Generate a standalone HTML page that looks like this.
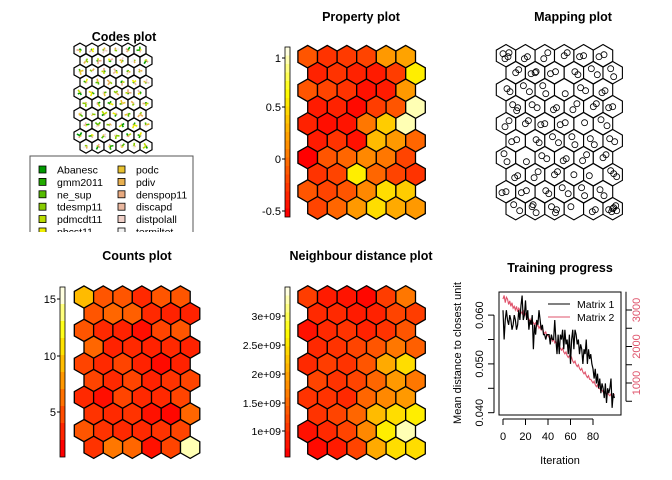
<!DOCTYPE html>
<html><head><meta charset="utf-8"><style>
body{margin:0;background:#fff}
svg{font-family:"Liberation Sans",sans-serif;display:block}
</style></head><body>
<svg id="c" width="672" height="480" viewBox="0 0 672 480">
<g id="titles" font-weight="bold" font-size="12.5" text-anchor="middle">
<text x="124" y="41">Codes plot</text>
<text x="361" y="21">Property plot</text>
<text x="573" y="21">Mapping plot</text>
<text x="137" y="260">Counts plot</text>
<text x="361" y="260">Neighbour distance plot</text>
<text x="560" y="272">Training progress</text>
</g>
</svg>
<script>
const propVals=[[.25,.15,.17,.2,.45,.48],[.1,.15,.1,.08,.18,.7],[.25,.2,.15,.05,.08,.45],[.08,.1,.03,.18,.25,.95],[.1,.04,.06,.35,.6,.95],[.08,.15,.05,.55,.45,.3],[0,.25,.3,.4,.35,.2],[.15,.2,.7,.3,.2,.15],[.25,.2,.25,.4,.65,.6],[.2,.3,.45,.65,.5,.45]];
const countVals=[[.55,.25,.25,.12,.25,.25],[.25,.3,.28,.12,.1,.1],[.25,.12,.1,.04,.2,.25],[.3,.1,.12,.1,.12,.1],[.2,.12,.2,.1,.03,.1],[.2,.12,.2,.1,.15,.2],[.12,.04,.2,.12,.12,.2],[.15,.12,.15,.05,.02,.3],[.25,.15,.12,.12,.15,.2],[.15,.35,.3,.05,.2,.95]];
const distVals=[[.18,.08,.06,.02,.18,.35],[.12,.12,.08,.1,.2,.18],[.05,.12,.15,.1,.15,.25],[.12,.15,.2,.25,.35,.28],[.12,.18,.15,.25,.5,.65],[.2,.15,.2,.3,.45,.35],[.15,.15,.12,.3,.4,.45],[.15,.2,.3,.55,.65,.7],[.05,.12,.2,.4,.7,.95],[.03,.08,.2,.5,.65,.65]];
const iterTicks=[0,20,40,60,80];
const leftTicks=[0.040,0.045,0.050,0.055,0.060];
const leftLabels=["0.040","","0.050","","0.060"];
const rightTicks=[500,1000,1500,2000,2500,3000,3500];
const rightLabels=["","1000","","2000","","3000",""];
const matrix1=[.061,.055,.059,.061,.059,.058,.060,.059,.057,.058,.060,.059,.057,.058,.061,.059,.062,.064,.059,.060,.063,.059,.061,.057,.059,.058,.060,.053,.058,.056,.059,.058,.061,.059,.057,.058,.056,.056,.055,.056,.056,.056,.054,.056,.055,.055,.059,.055,.052,.056,.052,.056,.055,.057,.053,.057,.054,.055,.052,.056,.050,.055,.057,.053,.057,.056,.054,.055,.052,.054,.053,.050,.053,.052,.055,.050,.053,.051,.052,.050,.049,.047,.049,.046,.048,.045,.047,.044,.046,.045,.043,.046,.042,.045,.044,.045,.047,.041,.044,.043];
const matrix2=[3300,3400,3200,3350,3300,3150,3250,3100,3200,3050,3100,3000,3100,2950,3050,3000,2950,2900,3000,2850,2900,2800,2850,2700,2750,2650,2700,2650,2600,2650,2550,2600,2500,2550,2450,2500,2400,2350,2400,2300,2300,2250,2200,2250,2150,2200,2100,2150,2050,2000,2000,1950,1900,1950,1850,1800,1850,1750,1700,1750,1650,1700,1600,1550,1600,1500,1450,1500,1400,1350,1400,1300,1250,1300,1200,1150,1200,1100,1100,1050,1000,1050,950,900,950,850,850,800,800,750,750,720,700,720,680,650,700,620,650,700];
const legendNames=["Abanesc","gmm2011","ne_sup","tdesmp11","pdmcdt11","pbcst11","podc","pdiv","denspop11","discapd","distpolall","termiltot"];
const legendCols=["#009900","#22aa00","#55bb00","#88cc00","#bbdd00","#eeee00","#e8c230","#e8b050","#e8aa80","#eab8a0","#f0d0c8","#f2f2f2"];

const NS="http://www.w3.org/2000/svg",svg=document.getElementById('c');
function el(t,a,p){const e=document.createElementNS(NS,t);for(const k in a)e.setAttribute(k,a[k]);(p||svg).appendChild(e);return e;}
function heat(v){if(v<0.75){return `hsl(${60*v/0.75},100%,50%)`;}const s=1-(v-0.75)/0.25*0.88;return `hsl(60,100%,${50+(1-s)*50}%)`;}
function hexPts(cx,cy,w){const r=w/Math.sqrt(3);let p=[];for(let k=0;k<6;k++){const a=Math.PI/180*(60*k-90);p.push((cx+r*Math.cos(a)).toFixed(1)+","+(cy+r*Math.sin(a)).toFixed(1));}return p.join(" ");}
function hexCenter(x0,y0,w,dy,r,c){return [x0+c*w+(r%2?w/2:0),y0+r*dy];}
function grid(name,x0,y0,w,dy,vals,sw){const g=el('g',{});
 for(let r=0;r<10;r++)for(let c=0;c<6;c++){const [cx,cy]=hexCenter(x0,y0,w,dy,r,c);const h=el('polygon',{points:hexPts(cx,cy,w),fill:vals?heat(vals[r][c]):'#fff',stroke:'#000','stroke-width':sw||1.2},g);
 }return g;}
function colorbar(name,x,y1,y2,n,ticks,tickY,fs){const g=el('g',{});
 const h=(y2-y1)/n;for(let i=0;i<n;i++){el('rect',{x:x,y:y2-(i+1)*h,width:5,height:h,fill:heat(i/(n-1)),stroke:'none'},g);}
 el('rect',{x:x,y:y1,width:5,height:y2-y1,fill:'none',stroke:'#000','stroke-width':0.8},g);
 ticks.forEach((t,i)=>{el('line',{x1:x-3,x2:x,y1:tickY[i],y2:tickY[i],stroke:'#000'},g);const tx=el('text',{x:x-4,y:tickY[i]+4,'text-anchor':'end','font-size':fs||11},g);tx.textContent=t;});}

// Codes plot
const cg=grid('codes-grid',80,50,12,10.7,null,1.2);
for(let r=0;r<10;r++)for(let c=0;c<6;c++){const [cx,cy]=hexCenter(80,50,12,10.7,r,c);
 for(let k=0;k<4;k++){const col=legendCols[(r*3+c*5+k*4)%12];const a=(r*37+c*53+k*90)%360*Math.PI/180;const len=1.5+((r+c+k)%3);
 el('line',{x1:cx,y1:cy,x2:cx+len*Math.cos(a),y2:cy+len*Math.sin(a),stroke:col,'stroke-width':1.6},cg);}}
const lg=el('g',{});
el('path',{d:'M30,232 V156 H193 V232',fill:'none',stroke:'#555','stroke-width':1},lg);
legendNames.forEach((n,i)=>{const col=Math.floor(i/6),row=i%6;const bx=col?118:39,ty=170+row*12.4;
 el('rect',{x:bx,y:ty-4,width:7,height:7,fill:legendCols[i],stroke:'#000','stroke-width':0.8},lg);
 const t=el('text',{x:bx+18,y:ty+3.5,'font-size':10.5},lg);t.textContent=n;});
el('rect',{x:0,y:232,width:224,height:10,fill:'#fff'});

// Property plot
grid('property-grid',307.7,56.7,19.6,16.8,propVals,1.3);
colorbar('property-colorbar',285,47,217,20,["1","0.5","0","-0.5"],[58,107,159,211]);

// Mapping plot
const mg=grid('mapping-grid',506,55.7,19.4,17,null,1.1);
const offs=[[-3,-2],[2,1],[-1,3],[3,-3],[0,0],[-4,1],[1,-1],[4,2],[-2,-4],[1,4]];
for(let r=0;r<10;r++)for(let c=0;c<6;c++){const [cx,cy]=hexCenter(506,55.7,19.4,17,r,c);const n=1+Math.round(countVals[r][c]*5);
 for(let k=0;k<n;k++){const o=offs[(k+r*3+c)%offs.length];el('circle',{cx:cx+o[0],cy:cy+o[1],r:3,fill:'none',stroke:'#000','stroke-width':0.8},mg);}}

// Counts plot
grid('counts-grid',84,297,19.3,16.7,countVals,1.3);
colorbar('counts-colorbar',60,287,457,10,["15","10","5"],[299,356,412]);

// Neighbour distance
grid('neighbour-grid',307.7,297,19.6,16.8,distVals,1.3);
colorbar('neighbour-colorbar',285,287,457,20,["3e+09","2.5e+09","2e+09","1.5e+09","1e+09"],[316,345,374,403,431],10.5);

// Training progress
const tg=el('g',{});
const X=i=>503+i*1.125, YL=v=>412.7-(v-0.040)*4880, YR=v=>383-(v-1000)*0.0365;
el('rect',{x:499,y:292,width:122,height:123,fill:'none',stroke:'#000','stroke-width':1},tg);
iterTicks.forEach(t=>{el('line',{x1:X(t),x2:X(t),y1:419,y2:425,stroke:'#000'},tg);const s=el('text',{x:X(t),y:440,'text-anchor':'middle','font-size':11},tg);s.textContent=t;});
el('line',{x1:X(0),x2:X(80),y1:419,y2:419,stroke:'#000'},tg);
leftTicks.forEach((t,i)=>{const y=YL(t);el('line',{x1:488,x2:494,y1:y,y2:y,stroke:'#000'},tg);if(leftLabels[i]){const s=el('text',{x:483,y:y,'text-anchor':'middle','font-size':11,transform:`rotate(-90 483 ${y})`},tg);s.textContent=leftLabels[i];}});
el('line',{x1:494,x2:494,y1:YL(0.040),y2:YL(0.060),stroke:'#000'},tg);
rightTicks.forEach((t,i)=>{const y=YR(t);if(y<292||y>415)return;el('line',{x1:626,x2:632,y1:y,y2:y,stroke:'#000'},tg);if(rightLabels[i]){const s=el('text',{x:640,y:y,'text-anchor':'middle','font-size':11,fill:'#DF536B',transform:`rotate(-90 640 ${y})`},tg);s.textContent=rightLabels[i];}});
el('line',{x1:626,x2:626,y1:YR(500),y2:YR(3500),stroke:'#000'},tg);
const yl=el('text',{x:461,y:353,'text-anchor':'middle','font-size':11,transform:'rotate(-90 461 353)'},tg);yl.textContent='Mean distance to closest unit';
const xl=el('text',{x:560,y:464,'text-anchor':'middle','font-size':11},tg);xl.textContent='Iteration';
const l2=el('polyline',{points:matrix2.map((v,i)=>X(i)+","+YR(v)).join(" "),fill:'none',stroke:'#DF536B','stroke-width':1.1},tg);

const l1=el('polyline',{points:matrix1.map((v,i)=>X(i)+","+YL(v)).join(" "),fill:'none',stroke:'#000','stroke-width':1.2},tg);

const leg=el('g',{},tg);
el('line',{x1:548,x2:570,y1:304,y2:304,stroke:'#000'},leg);el('line',{x1:548,x2:570,y1:317,y2:317,stroke:'#DF536B'},leg);
let a=el('text',{x:577,y:308,'font-size':10.5},leg);a.textContent='Matrix 1';
a=el('text',{x:577,y:321,'font-size':10.5},leg);a.textContent='Matrix 2';
</script>
</body></html>
